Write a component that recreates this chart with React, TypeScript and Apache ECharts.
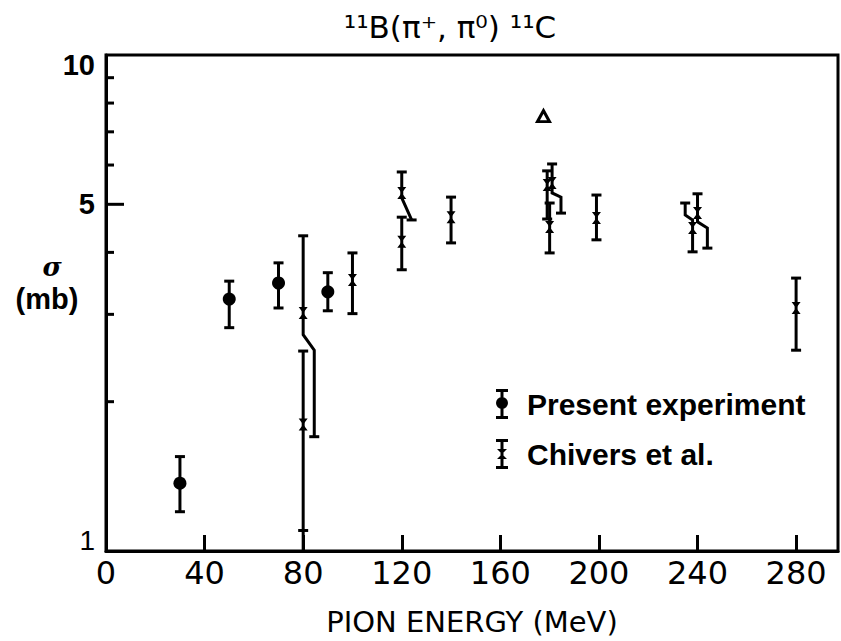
import React, { useEffect, useRef } from 'react';
import * as echarts from 'echarts';

// ---- data ----
const xTickStep = 40;
const xMax = 297;
const yMinorTicks = [2, 3, 4, 5, 6, 7, 8, 9];
const yMidLabel = 5;

const presentE = [30, 50, 70, 90];
const presentVal = [1.37, 3.22, 3.47, 3.33];
const presentLow = [1.2, 2.82, 3.09, 3.05];
const presentHigh = [1.55, 3.5, 3.81, 3.64];

const chiversE = [80, 80, 100, 120, 120, 140, 179, 181, 180, 199, 238, 240, 280];
const chiversVal = [3.02, 1.8, 3.52, 5.27, 4.2, 4.71, 5.47, 5.52, 4.5, 4.69, 4.48, 4.8, 3.09];
const chiversLow = [1.7, 1.1, 3.01, 4.65, 3.69, 4.18, 4.67, 4.8, 3.99, 4.24, 4.01, 4.08, 2.54];
const chiversHigh = [4.32, 2.53, 3.99, 5.81, 4.71, 5.17, 5.84, 6.03, 5.03, 5.22, 5.03, 5.25, 3.55];
// displaced parts of error bars: side, shifted energy, sigma where bend starts, sigma where bend ends
const chiversKinks: any[] = [
  { side: 'low', offE: 84.5, a: 2.73, b: 2.54 },
  null,
  null,
  { side: 'low', offE: 124, a: 5.15, b: 4.65 },
  null,
  null,
  null,
  { side: 'low', offE: 184.6, a: 5.27, b: 5.17 },
  null,
  null,
  { side: 'high', offE: 235, a: 4.76, b: 4.65 },
  { side: 'low', offE: 244, a: 4.61, b: 4.48 },
  null,
];
const chiversTail = [null, 1.0, null, null, null, null, null, null, null, null, null, null, null];

const triangleE = [177.5];
const triangleVal = [7.53];

const titleText = '¹¹B(π⁺, π⁰) ¹¹C';
const xName = 'PION ENERGY (MeV)';
const seriesNames = ['Present experiment', 'Chivers et al.'];

const presentIcon =
  'path://M0 0h12v3H0z M0 27h12v3H0z M4.5 0h3v30h-3z M0 14a6 6 0 1 1 12 0a6 6 0 1 1 -12 0z';
const chiversIcon =
  'path://M0 0h12v3H0z M0 27h12v3H0z M4.5 0h3v30h-3z M1 10h10l-5 5z M1 20l5 -5l5 5z';

function makeBar(api: any, e: number, v: number, lo: number, hi: number, kink: any, tail: any, kind: string) {
  const P = (x: number, y: number) => api.coord([x, y]);
  let pts: number[][];
  if (kink && kink.side === 'low') {
    pts = [P(e, hi), P(e, kink.a), P(kink.offE, kink.b), P(kink.offE, lo)];
  } else if (kink && kink.side === 'high') {
    pts = [P(kink.offE, hi), P(kink.offE, kink.a), P(e, kink.b), P(e, lo)];
  } else {
    pts = [P(e, hi), P(e, lo)];
  }
  const stroke = { stroke: '#000', lineWidth: 3, fill: null };
  const children: any[] = [
    { type: 'polyline', shape: { points: pts }, style: stroke },
  ];
  const top = pts[0];
  const bot = pts[pts.length - 1];
  children.push({ type: 'line', shape: { x1: top[0] - 5, y1: top[1], x2: top[0] + 5, y2: top[1] }, style: stroke });
  children.push({ type: 'line', shape: { x1: bot[0] - 5, y1: bot[1], x2: bot[0] + 5, y2: bot[1] }, style: stroke });
  if (tail != null) {
    const t = api.coord([kink && kink.side === 'low' ? kink.offE : e, tail]);
    children.push({ type: 'line', shape: { x1: bot[0], y1: bot[1], x2: t[0], y2: t[1] + 4 }, style: stroke });
  }
  const c = P(e, v);
  if (kind === 'present') {
    children.push({ type: 'circle', shape: { cx: c[0], cy: c[1], r: 6.5 }, style: { fill: '#000' } });
  } else {
    children.push({
      type: 'polygon',
      shape: { points: [[c[0] - 4.5, c[1] - 6], [c[0] + 4.5, c[1] - 6], [c[0] - 4.5, c[1] + 6], [c[0] + 4.5, c[1] + 6]] },
      style: { fill: '#000' },
    });
  }
  return { type: 'group', children };
}

export default function App() {
  const ref = useRef<HTMLDivElement>(null);
  useEffect(() => {
    if (!ref.current) return;
    const chart = echarts.init(ref.current, null, { renderer: 'svg' });
    const option: any = {
      animation: false,
      backgroundColor: '#fff',
      title: {
        text: titleText,
        left: 445,
        top: 6,
        textAlign: 'center',
        textStyle: { fontFamily: 'DejaVu Sans', fontSize: 31, fontWeight: 'normal', color: '#000' },
      },
      legend: {
        orient: 'vertical',
        left: 491,
        top: 384,
        itemWidth: 12,
        itemHeight: 30,
        itemGap: 20,
        selectedMode: false,
        data: [
          { name: seriesNames[0], icon: presentIcon },
          { name: seriesNames[1], icon: chiversIcon },
        ],
        textStyle: { fontFamily: 'Liberation Sans', fontSize: 30, fontWeight: 'bold', color: '#000', padding: [0, 0, 0, 14] },
      },
      grid: {
        left: 106,
        right: 3,
        top: 55,
        bottom: 90,
        show: true,
        borderColor: '#000',
        borderWidth: 3,
        containLabel: false,
        outerBoundsMode: 'none',
      },
      xAxis: {
        type: 'value',
        min: 0,
        max: xMax,
        interval: xTickStep,
        axisLine: { lineStyle: { color: '#000', width: 3 } },
        axisTick: { inside: true, length: 16, lineStyle: { color: '#000', width: 3 } },
        splitLine: { show: false },
        axisLabel: {
          color: '#000',
          fontFamily: 'DejaVu Sans',
          fontSize: 32,
          margin: 6,
          showMaxLabel: false,
          formatter: (v: number) => (v % xTickStep === 0 ? String(v) : ''),
        },
        name: xName,
        nameLocation: 'middle',
        nameGap: 71,
        nameMoveOverlap: false,
        nameTextStyle: { fontFamily: 'DejaVu Sans', fontSize: 29, color: '#000', align: 'center', verticalAlign: 'middle' },
      },
      yAxis: {
        type: 'log',
        logBase: 10,
        min: 1,
        max: 10,
        axisLine: { lineStyle: { color: '#000', width: 3 } },
        axisTick: { show: false },
        splitLine: { show: false },
        axisLabel: {
          color: '#000',
          margin: 11,
          formatter: (v: number) => (v <= 1 ? '{lo|' + v + '}' : '{hi|' + v + '}'),
          rich: {
            lo: { fontFamily: 'Liberation Sans', fontSize: 28, fontWeight: 'normal', padding: [0, 0, 22, 0] },
            hi: { fontFamily: 'Liberation Sans', fontSize: 29, fontWeight: 'bold', padding: [20, 0, 0, 0] },
          },
        },
        name: '{s|σ}\n{m|(mb)}',
        nameLocation: 'middle',
        nameRotate: 0,
        nameGap: 59,
        nameMoveOverlap: false,
        nameTextStyle: {
          align: 'center',
          verticalAlign: 'middle',
          padding: [0, 0, 38, 0],
          rich: {
            s: { fontFamily: 'DejaVu Serif', fontSize: 26, fontStyle: 'italic', fontWeight: 'bold', color: '#000', lineHeight: 30, padding: [0, 0, 0, 10] },
            m: { fontFamily: 'Liberation Sans', fontSize: 29, fontWeight: 'bold', color: '#000', lineHeight: 34 },
          },
        },
      },
      series: [
        {
          name: 'yTicks',
          type: 'custom',
          silent: true,
          data: yMinorTicks.map((v) => [0, v]),
          renderItem: (params: any, api: any) => {
            const v = api.value(1);
            const c = api.coord([0, v]);
            const len = v === yMidLabel ? 18 : 8;
            const children: any[] = [
              { type: 'line', shape: { x1: c[0], y1: c[1], x2: c[0] + len, y2: c[1] }, style: { stroke: '#000', lineWidth: 3 } },
            ];
            if (v === yMidLabel) {
              children.push({
                type: 'text',
                style: {
                  text: String(v),
                  x: c[0] - 11,
                  y: c[1],
                  align: 'right',
                  verticalAlign: 'middle',
                  fontFamily: 'Liberation Sans',
                  fontSize: 29,
                  fontWeight: 'bold',
                  fill: '#000',
                },
              });
            }
            return { type: 'group', children };
          },
        },
        {
          name: seriesNames[0],
          type: 'custom',
          itemStyle: { color: '#000' },
          data: presentE.map((e, i) => [e, presentVal[i], presentLow[i], presentHigh[i]]),
          renderItem: (params: any, api: any) => {
            const i = params.dataIndex;
            return makeBar(api, presentE[i], presentVal[i], presentLow[i], presentHigh[i], null, null, 'present');
          },
        },
        {
          name: seriesNames[1],
          type: 'custom',
          itemStyle: { color: '#000' },
          clip: true,
          data: chiversE.map((e, i) => [e, chiversVal[i], chiversLow[i], chiversHigh[i]]),
          renderItem: (params: any, api: any) => {
            const i = params.dataIndex;
            return makeBar(api, chiversE[i], chiversVal[i], chiversLow[i], chiversHigh[i], chiversKinks[i], chiversTail[i], 'chivers');
          },
        },
        {
          name: 'triangle',
          type: 'scatter',
          symbol: 'triangle',
          symbolSize: [12, 11],
          itemStyle: { color: '#fff', borderColor: '#000', borderWidth: 3, opacity: 1 },
          data: triangleE.map((e, i) => [e, triangleVal[i]]),
        },
      ],
    };
    chart.setOption(option);
    return () => chart.dispose();
  }, []);
  return (
    <div
      ref={ref}
      style={{ position: 'fixed', left: 0, top: 0, width: 841, height: 641, background: '#fff' }}
    />
  );
}
